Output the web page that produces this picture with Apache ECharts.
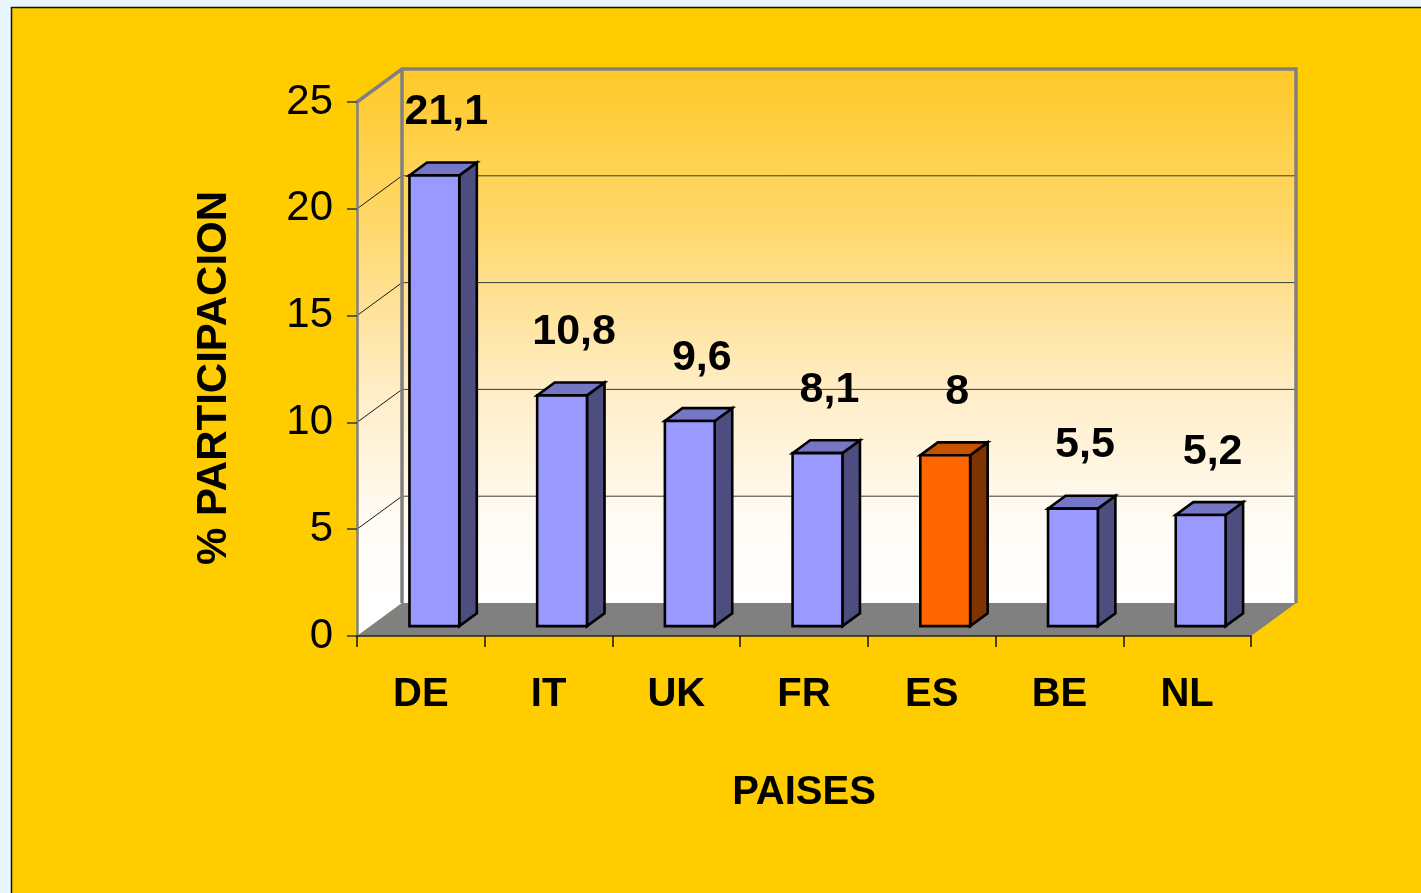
<!DOCTYPE html>
<html>
<head>
<meta charset="utf-8">
<script src="https://cdn.jsdelivr.net/npm/echarts@6/dist/echarts.min.js"></script>
<style>
  html, body { margin: 0; padding: 0; background: #EAF6FD; }
  #chart { width: 1421px; height: 893px; }
</style>
</head>
<body>
<div id="chart"></div>
<script>
// ---- data ----
const categories = ['DE', 'IT', 'UK', 'FR', 'ES', 'BE', 'NL'];
const values = [21.1, 10.8, 9.6, 8.1, 8, 5.5, 5.2];
const valueLabels = ['21,1', '10,8', '9,6', '8,1', '8', '5,5', '5,2'];
const highlighted = 'ES';
const yMin = 0, yMax = 25, yStep = 5;
const xTitle = 'PAISES';
const yTitle = '% PARTICIPACION';

// ---- style constants ----
const DX = 45, DY = -33;          // 3D depth offset of the back wall
const F1 = 0.30, F2 = 0.69;       // bar front / back depth fraction
const BAR_W = 0.39;               // bar width as fraction of band
const FONT = "'Liberation Sans', Arial, sans-serif";
const normalColors = { front: '#9999FF', side: '#4D4D80', top: '#7676C6' };
const hiColors = { front: '#FF6600', side: '#7F3300', top: '#C85100' };

const wallGradient = (y0, y1) => ({
  type: 'linear', global: true, x: 0, y: y0, x2: 0, y2: y1,
  colorStops: [
    { offset: 0, color: '#FFC928' },
    { offset: 0.3, color: '#FFD86E' },
    { offset: 0.6, color: '#FFEDC6' },
    { offset: 0.85, color: '#FFFCF5' },
    { offset: 1, color: '#FFFFFF' }
  ]
});

function renderWalls(params, api) {
  const n = categories.length;
  const bw = api.size([1, 0])[0];
  const c0 = api.coord([0, yMin]);
  const cn = api.coord([n - 1, yMin]);
  const xl = c0[0] - bw / 2, xr = cn[0] + bw / 2;
  const yb = c0[1];
  const yt = api.coord([0, yMax])[1];
  const grad = wallGradient(yt + DY, yb + DY);
  const children = [];
  // back wall
  children.push({ type: 'rect', shape: { x: xl + DX, y: yt + DY, width: xr - xl, height: yb - yt },
    style: { fill: grad } });
  // left side wall
  children.push({ type: 'polygon', shape: { points: [[xl, yb], [xl, yt], [xl + DX, yt + DY], [xl + DX, yb + DY]] },
    style: { fill: grad } });
  // gridlines
  for (let v = yMin + yStep; v < yMax; v += yStep) {
    const y = api.coord([0, v])[1];
    children.push({ type: 'line', shape: { x1: xl + DX, y1: y + DY, x2: xr + DX, y2: y + DY },
      style: { stroke: '#3a3a3a', lineWidth: 1 } });
    children.push({ type: 'line', shape: { x1: xl, y1: y, x2: xl + DX, y2: y + DY },
      style: { stroke: '#1a1a1a', lineWidth: 1 } });
  }
  // floor
  children.push({ type: 'polygon', shape: { points: [[xl, yb], [xr, yb], [xr + DX, yb + DY], [xl + DX, yb + DY]] },
    style: { fill: '#808080' } });
  // frame edges
  const edge = { stroke: '#808080', lineWidth: 3.5 };
  children.push({ type: 'polyline', shape: { points: [[xl, yt], [xl + DX, yt + DY], [xr + DX, yt + DY], [xr + DX, yb + DY]] },
    style: Object.assign({ fill: null, lineJoin: 'miter' }, edge) });
  children.push({ type: 'line', shape: { x1: xl + DX, y1: yt + DY, x2: xl + DX, y2: yb + DY }, style: edge });
  return { type: 'group', children: children };
}

function renderBar(params, api) {
  const i = api.value(0), v = api.value(1);
  const base = api.coord([i, yMin]);
  const top = api.coord([i, v]);
  const bw = api.size([1, 0])[0];
  const w = bw * BAR_W;
  const x0 = base[0] + DX * F1 - w / 2, x1 = x0 + w;
  const yb = base[1] + DY * F1, yt = top[1] + DY * F1;
  const sx = DX * (F2 - F1), sy = DY * (F2 - F1);
  const c = categories[i] === highlighted ? hiColors : normalColors;
  const stroke = { stroke: '#000', lineWidth: 2.6, lineJoin: 'miter' };
  return {
    type: 'group',
    children: [
      { type: 'polygon', shape: { points: [[x1, yb], [x1, yt], [x1 + sx, yt + sy], [x1 + sx, yb + sy]] },
        style: Object.assign({ fill: c.side }, stroke) },
      { type: 'polygon', shape: { points: [[x0, yt], [x1, yt], [x1 + sx, yt + sy], [x0 + sx, yt + sy]] },
        style: Object.assign({ fill: c.top }, stroke) },
      { type: 'rect', shape: { x: x0, y: yt, width: w, height: yb - yt },
        style: Object.assign({ fill: c.front }, stroke) },
      { type: 'text', x: (x0 + x1) / 2 + 12, y: yt - 63,
        style: { text: valueLabels[i], font: 'bold 43px ' + FONT, fill: '#000', align: 'center', verticalAlign: 'middle' } }
    ]
  };
}

const chart = echarts.init(document.getElementById('chart'), null, { renderer: 'canvas' });
chart.setOption({
  backgroundColor: '#EAF6FD',
  animation: false,
  graphic: [{
    type: 'rect', z: -10,
    shape: { x: 11.5, y: 7.5, width: 1430, height: 900 },
    style: { fill: '#FFCC00', stroke: '#111', lineWidth: 1.5 }
  }],
  grid: { left: 357, right: 170, top: 102, bottom: 257, containLabel: false, outerBoundsMode: 'none' },
  xAxis: {
    type: 'category', data: categories, boundaryGap: true, z: 10,
    axisLine: { show: true, lineStyle: { color: '#222', width: 1.5 } },
    axisTick: { show: true, length: 11, alignWithLabel: false, lineStyle: { color: '#111', width: 1.5 } },
    axisLabel: { fontSize: 40, fontWeight: 'bold', fontFamily: FONT, color: '#000', margin: 39 },
    splitLine: { show: false },
    name: xTitle, nameLocation: 'middle', nameGap: 137,
    nameTextStyle: { fontSize: 40, fontWeight: 'bold', fontFamily: FONT, color: '#000' }
  },
  yAxis: {
    type: 'value', min: yMin, max: yMax, interval: yStep, z: 10,
    axisLine: { show: true, lineStyle: { color: '#808080', width: 2.5 } },
    axisTick: { show: true, length: 10, lineStyle: { color: '#333', width: 1.5 } },
    axisLabel: { fontSize: 42, fontFamily: FONT, color: '#000', margin: 24 },
    splitLine: { show: false },
    name: yTitle, nameLocation: 'middle', nameGap: 122, nameRotate: 90,
    nameTextStyle: { fontSize: 42, fontWeight: 'bold', fontFamily: FONT, color: '#000', padding: [0, 18, 0, 0] }
  },
  series: [
    { type: 'custom', z: 1, renderItem: renderWalls, data: [[0, 0]], encode: { x: 0, y: 1 }, silent: true },
    { type: 'custom', z: 3, renderItem: renderBar, data: values.map((v, i) => [i, v]), encode: { x: 0, y: 1 } }
  ]
});
</script>
</body>
</html>
